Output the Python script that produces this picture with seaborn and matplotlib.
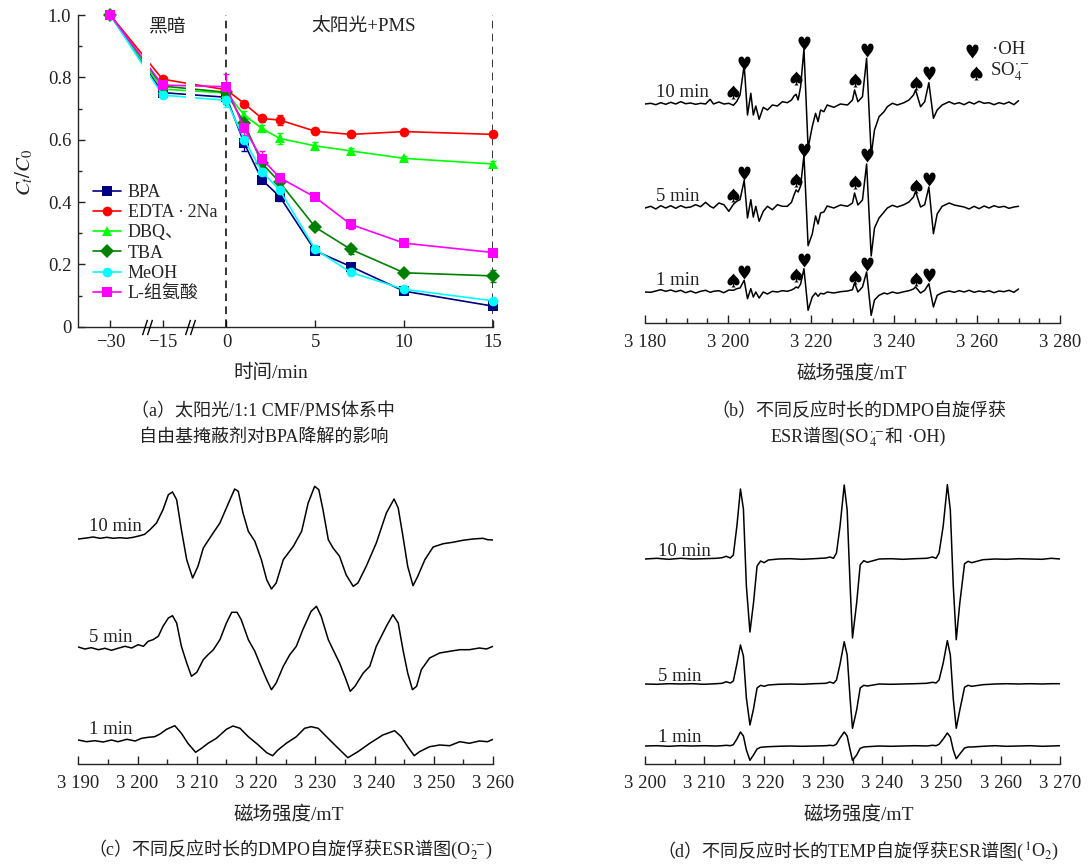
import numpy as np
import pandas as pd
import matplotlib
matplotlib.use("Agg")
import matplotlib.pyplot as plt
from matplotlib.path import Path
from matplotlib.ticker import MultipleLocator, FuncFormatter, FixedLocator
from matplotlib.offsetbox import TextArea, HPacker, AnnotationBbox
import seaborn as sns

# ------------------------------------------------------------------
# (a) C_t/C_0 of BPA with different radical scavengers
# ------------------------------------------------------------------
times = [-30, -15, 0, 1, 2, 3, 5, 7, 10, 15]
series_names = ["BPA", "EDTA\u2009·\u20092Na", "DBQ、", "TBA", "MeOH", "L-组氨酸"]

bpa = [1.0, 0.751, 0.736, 0.588, 0.471, 0.417, 0.243, 0.193, 0.114, 0.066]
edta = [1.0, 0.794, 0.760, 0.716, 0.668, 0.663, 0.627, 0.617, 0.626, 0.617]
dbq = [1.0, 0.762, 0.750, 0.679, 0.636, 0.604, 0.580, 0.564, 0.540, 0.522]
tba = [1.0, 0.772, 0.752, 0.652, 0.524, 0.463, 0.319, 0.248, 0.173, 0.163]
meoh = [1.0, 0.743, 0.726, 0.600, 0.497, 0.438, 0.248, 0.174, 0.120, 0.083]
lhis = [1.0, 0.775, 0.770, 0.636, 0.538, 0.478, 0.415, 0.328, 0.268, 0.238]

bpa_err = [0, 0.005, 0.020, 0.025, 0.010, 0.015, 0.008, 0.008, 0.006, 0.006]
edta_err = [0, 0.005, 0.010, 0.008, 0.010, 0.015, 0.008, 0.008, 0.006, 0.008]
dbq_err = [0.005, 0.005, 0.010, 0.012, 0.010, 0.018, 0.012, 0.010, 0.008, 0.010]
tba_err = [0, 0.005, 0.010, 0.020, 0.015, 0.015, 0.010, 0.015, 0.010, 0.020]
meoh_err = [0, 0.005, 0.020, 0.015, 0.010, 0.020, 0.008, 0.008, 0.006, 0.006]
lhis_err = [0, 0.005, 0.040, 0.020, 0.025, 0.010, 0.010, 0.015, 0.008, 0.008]

colors = ["#000080", "#ff0000", "#00ff00", "#008000", "#00ffff", "#ff00ff"]
markers = ["s", "o", "^", "D", "o", "s"]

# ------------------------------------------------------------------
# (b) DMPO spin trapping, SO4·- and ·OH (field in mT, intensity a.u.)
# ------------------------------------------------------------------
b_field = [3180.0, 3181.4, 3182.6, 3183.8, 3185.0, 3186.2, 3187.4, 3188.6, 3189.8, 3191.0,
           3192.2, 3193.4, 3194.6, 3195.7, 3196.5, 3197.8, 3199.0, 3200.2, 3201.3, 3202.1,
           3202.9, 3203.9, 3204.7, 3205.5, 3206.1, 3206.7, 3207.5, 3208.5, 3209.5, 3210.7,
           3211.9, 3213.1, 3214.3, 3215.3, 3215.9, 3216.4, 3216.9, 3217.5, 3218.3, 3219.3,
           3220.3, 3221.1, 3221.7, 3222.3, 3223.1, 3223.9, 3225.5, 3227.1, 3228.8, 3230.0,
           3230.5, 3231.3, 3232.4, 3233.4, 3234.5, 3235.3, 3236.4, 3237.6, 3238.4, 3239.6,
           3240.8, 3242.4, 3243.6, 3244.7, 3245.2, 3246.4, 3247.4, 3248.4, 3249.5, 3250.4,
           3251.6, 3253.3, 3254.5, 3255.7, 3256.9, 3258.1, 3259.3, 3260.5, 3261.7, 3262.9,
           3264.1, 3265.3, 3266.5, 3267.7, 3268.9, 3270.0]
b_10min = [0, 0.7, -0.7, 1.3, -0.3, 1.7, 0, 2.3, 0.3, 1.0,
           -0.3, 0.7, 0, 4.7, 0, 2.0, 0, 0.7, -1.3, 2.5,
           9.0, 39.0, -11.0, 10.7, -11.0, -2.0, -15.3, -3.3, -6.0, -1.0,
           -2.0, 2.3, 1.3, 4.0, 8.0, 9.7, 4.0, 17.3, 55.0, -44.0,
           -22.7, -9.3, -17.7, -6.0, -7.7, -1.0, -3.3, 0, -1.0, 4.0,
           14.0, 2.3, 7.3, 45.7, -51.0, -26.0, -12.7, -7.7, -2.7, 0.7,
           -1.0, 1.3, 4.0, 9.0, 14.0, -2.7, 2.3, 21.3, -14.3, -6.0,
           -1.0, 2.3, 0, 1.3, -0.7, 2.0, 0, 2.7, 0.7, 1.3,
           -0.7, 1.3, 0, 2.0, -0.7, 3.3]
b_5min = [0, 1.7, -1.0, 2.3, 0, 2.3, -0.3, 2.3, 0.3, 1.0,
          3.3, 1.3, 5.7, 1.7, 0, 5.0, 3.3, -3.3, 3.7, 6.7,
          8.3, 27.7, -10.0, 8.3, -9.0, 1.7, -13.3, -3.3, 1.7, -1.7,
          3.3, 1.7, 1.7, 5.7, 13.0, 18.0, 16.0, 22.0, 53.0, -37.7,
          -26.0, -8.0, -16.0, -5.0, -4.0, 2.0, 0, 3.0, 1.7, 5.0,
          15.0, 3.0, 8.0, 44.0, -48.0, -20.0, -10.0, -4.0, 0, 2.7,
          1.0, 3.3, 6.0, 11.0, 16.7, 1.0, 3.3, 21.0, -25.7, -6.0,
          1.7, 5.0, 3.0, 2.0, 1.0, -1.0, 1.7, -0.7, 2.0, 0,
          2.3, 0.7, 1.7, -0.3, 1.0, 1.7]
b_1min = [0, -0.3, 1.0, 2.3, 0.7, 2.0, 0.3, 1.7, -0.7, 1.0,
          -1.0, 0.7, 1.7, -0.3, 0.7, 1.3, -0.7, 2.0, 1.7, 3.3,
          4.0, 11.7, -6.7, 3.3, -5.0, 0, -6.0, 0, -2.0, 0.7,
          0, 1.3, 0.7, 2.0, 3.3, 5.0, 4.0, 8.0, 23.3, -18.3,
          -5.0, -1.0, -4.3, -1.3, -2.0, 0, -1.0, 0.3, 1.0, 2.3,
          9.3, 0, 5.0, 20.0, -23.3, -8.0, -3.3, -1.0, -2.0, 0,
          -1.3, 0.3, 1.3, 3.0, 5.0, -1.0, 1.7, 8.3, -15.0, -3.3,
          -0.7, 1.0, -0.3, 1.3, 0, 1.7, -0.3, 1.0, 0, 1.3,
          -0.7, 1.0, 0.3, 1.7, -0.3, 3.0]
oh_lines = [21, 38, 53, 67]      # b_field indices of the ·OH lines
so4_lines = [18, 35, 50, 64]     # b_field indices of the SO4·- lines
# heights of the ♥ / ♠ marks above each baseline (10, 5, 1 min)
oh_label_y = [[40.7, 61.3, 54.0, 31.3], [35.0, 58.3, 53.3, 29.0], [20.0, 31.7, 28.3, 16.7]]
so4_label_y = [[12.3, 25.7, 24.0, 20.7], [13.3, 27.7, 25.7, 22.3], [11.7, 16.7, 15.0, 13.3]]

# ------------------------------------------------------------------
# (c) DMPO spin trapping, O2·-
# ------------------------------------------------------------------
c10_field = [3190.0, 3191.4, 3192.5, 3193.7, 3194.8, 3195.9, 3197.0, 3198.2, 3199.3, 3200.4,
             3201.2, 3202.1, 3203.2, 3204.3, 3205.2, 3205.9, 3206.6, 3207.4, 3208.3, 3209.3,
             3210.2, 3211.1, 3212.2, 3213.9, 3215.6, 3216.4, 3217.0, 3217.8, 3218.7, 3219.8,
             3220.9, 3221.8, 3222.6, 3223.4, 3224.6, 3226.3, 3227.7, 3228.8, 3229.9, 3230.6,
             3231.3, 3232.2, 3233.0, 3234.1, 3235.2, 3236.4, 3237.2, 3238.6, 3240.3, 3242.0,
             3243.3, 3244.0, 3244.8, 3245.6, 3246.5, 3247.3, 3248.5, 3249.9, 3251.6, 3253.2,
             3254.9, 3256.6, 3258.3, 3259.1, 3260.0]
c10_int = [0, 1.0, 2.0, 0.7, 1.7, 0.7, 1.3, 0.7, 1.7, 3.3,
           4.7, 9.3, 16.0, 29.3, 44.3, 47.0, 39.3, 9.3, -20.7, -39.0,
           -27.3, -9.0, 1.0, 16.0, 39.3, 50.0, 47.7, 26.0, 7.7, -2.3,
           -20.7, -40.7, -50.0, -44.0, -20.7, -7.3, 7.7, 36.0, 52.7, 49.3,
           29.3, -0.7, -9.0, -17.3, -35.7, -47.3, -44.0, -27.3, -4.0, 26.0,
           40.0, 31.0, 2.7, -27.3, -46.7, -37.3, -20.7, -8.0, -4.7, -3.3,
           -1.3, 0, 0.7, -0.7, -1.0]
c5_field = [3190.0, 3191.1, 3192.2, 3193.4, 3194.5, 3195.6, 3196.7, 3197.9, 3199.0, 3200.1,
            3201.0, 3201.8, 3202.6, 3203.5, 3204.3, 3205.2, 3205.9, 3206.6, 3207.4, 3208.3,
            3209.1, 3210.0, 3211.1, 3211.9, 3212.8, 3213.9, 3215.0, 3215.9, 3216.8, 3217.5,
            3218.7, 3219.8, 3220.6, 3221.8, 3222.6, 3223.4, 3224.6, 3225.7, 3226.8, 3227.9,
            3229.3, 3230.2, 3231.0, 3232.2, 3233.0, 3234.1, 3235.2, 3235.9, 3236.7, 3238.1,
            3239.2, 3240.3, 3242.0, 3243.1, 3244.0, 3244.8, 3245.6, 3246.4, 3247.1, 3247.9,
            3249.3, 3251.0, 3252.7, 3254.4, 3256.0, 3257.7, 3258.9, 3260.0]
c5_int = [1.0, -1.0, 0.3, -1.7, -0.3, -2.3, -0.3, 1.7, 0, 3.3,
          1.7, 6.7, 8.3, 11.7, 21.7, 30.0, 32.3, 25.0, 1.7, -15.0,
          -28.3, -24.3, -11.7, -6.7, -1.7, 8.3, 25.0, 35.7, 35.7, 28.3,
          8.3, -3.3, -15.0, -31.7, -41.7, -35.0, -18.3, -6.7, 1.7, 18.3,
          36.7, 41.7, 31.7, 8.3, -1.7, -15.0, -31.7, -43.3, -38.3, -25.0,
          -18.3, 1.7, 21.7, 33.3, 25.0, -1.7, -25.0, -41.7, -38.3, -21.7,
          -10.0, -5.0, -3.3, -1.7, -1.7, 0, -1.0, 1.7]
c1_field = [3190.0, 3191.4, 3192.8, 3194.2, 3195.6, 3196.7, 3198.2, 3199.6, 3200.7, 3201.8,
            3202.9, 3203.8, 3204.9, 3206.3, 3207.4, 3208.5, 3209.8, 3210.8, 3211.9, 3213.3,
            3215.0, 3216.1, 3217.3, 3218.7, 3220.4, 3221.8, 3222.8, 3223.7, 3225.1, 3226.8,
            3228.2, 3229.3, 3230.5, 3231.9, 3233.6, 3235.5, 3237.2, 3239.2, 3241.4, 3243.4,
            3244.5, 3245.6, 3246.7, 3247.6, 3249.3, 3251.0, 3252.7, 3254.4, 3256.0, 3257.7,
            3259.1, 3260.0]
c1_int = [1.0, -0.7, 0.3, -1.0, 1.0, -0.7, 1.7, 0, 2.7, 3.7,
          4.3, 7.0, 11.7, 15.3, 7.7, -2.3, -11.3, -7.3, -2.3, 2.7,
          11.7, 15.0, 12.7, 4.3, -4.0, -11.7, -14.7, -9.0, -2.3, 4.3,
          12.7, 14.3, 12.7, 4.3, -5.7, -16.7, -10.7, -2.3, 6.0, 10.3,
          4.3, -5.7, -14.7, -10.7, -5.7, -4.0, -4.7, -0.7, -2.3, 0,
          -0.7, 1.7]

# ------------------------------------------------------------------
# (d) TEMP spin trapping, 1O2
# ------------------------------------------------------------------
d_field = [3200.0, 3202.0, 3204.0, 3206.0, 3208.0, 3210.0, 3212.0, 3213.0, 3213.7, 3214.4,
           3214.9, 3215.5, 3216.1, 3216.6, 3217.1, 3217.7, 3218.3, 3218.9, 3219.5, 3220.1,
           3220.8, 3222.5, 3224.5, 3226.5, 3228.5, 3230.5, 3231.2, 3231.8, 3232.3, 3232.9,
           3233.6, 3234.1, 3234.6, 3235.0, 3235.7, 3236.3, 3236.9, 3237.5, 3239.5, 3241.5,
           3243.5, 3245.5, 3247.5, 3248.5, 3249.1, 3249.6, 3250.3, 3251.0, 3251.5, 3252.0,
           3252.5, 3253.1, 3253.9, 3254.5, 3255.1, 3257.0, 3259.0, 3261.0, 3263.0, 3265.0,
           3267.0, 3268.5, 3270.0]
d_10min = [0, 0.7, -0.3, 0.7, 0, 0.3, 0.7, 1.3, 2.7, 1.0,
           4.0, 33.0, 70.0, 50.0, -27.0, -73.0, -44.0, -7.0, -2.0, -3.7,
           -1.0, 0, 0.3, -0.3, 0.3, 1.0, 2.0, 0.7, 6.0, 33.0,
           74.0, 49.0, -27.0, -79.0, -44.0, -5.7, -1.7, -3.3, 0, 0.3,
           -0.3, 0.3, 0.7, 2.0, 0.7, 6.0, 33.0, 74.3, 49.0, -27.0,
           -80.7, -44.0, -4.7, -2.3, -3.7, -0.7, 0, -0.3, 0.3, 0,
           -0.3, 0.7, 0]
d_5min = [0, -0.3, 0.3, 0, 0.3, -0.3, 0.3, 0.7, 2.3, 1.0,
          3.0, 20.0, 39.0, 28.0, -14.0, -41.0, -25.0, -4.0, -1.3, -2.3,
          -1.0, -0.3, 0, -0.3, 0.3, 0.7, 2.0, 0.7, 4.0, 20.0,
          42.3, 29.0, -15.0, -44.3, -26.0, -4.0, -1.3, -2.0, 0, -0.3,
          0, 0.3, 0.7, 1.7, 1.0, 4.0, 21.0, 43.3, 29.0, -15.0,
          -44.3, -26.0, -3.3, -1.3, -2.3, -0.7, 0, 0.3, 0, 0.3,
          0, 0.3, 0.3]
d_1min = [0, 0.3, -0.3, 0.3, 0, 0.3, 0, 0.3, 0.7, 0.3,
          1.3, 7.0, 14.0, 10.0, -4.0, -14.3, -9.0, -3.0, -1.3, -1.0,
          -0.7, -0.3, 0, -0.3, 0, 0.3, 0.7, 0.3, 2.0, 8.0,
          14.0, 10.0, -4.0, -14.3, -9.0, -2.3, -1.0, -0.7, 0, -0.3,
          0, 0.3, 0, 0.7, 0.3, 1.7, 7.0, 13.0, 9.0, -4.0,
          -12.7, -8.0, -2.0, -1.0, -1.0, -0.3, 0.3, -0.3, 0, 0.3,
          -0.3, 0, 0.3]

time_labels = ["10 min", "5 min", "1 min"]

# ------------------------------------------------------------------
# style
# ------------------------------------------------------------------
FAMILY = ["Liberation Serif", "Noto Sans CJK SC", "DejaVu Sans"]
sns.set_style("ticks")
plt.rcParams["font.family"] = FAMILY
plt.rcParams["mathtext.fontset"] = "stix"
plt.rcParams["axes.linewidth"] = 1.0
plt.rcParams["axes.unicode_minus"] = True
INK = "#222222"
HEART, SPADE = "$\u2665$", "$\u2660$"
SUIT_SIZE = 10

W, H = 1092, 866
fig = plt.figure(figsize=(W / 100, H / 100), dpi=100)


def px_axes(left, top, right, bottom):
    return fig.add_axes([left / W, 1 - bottom / H, (right - left) / W, (bottom - top) / H])


def caption(parts, cx, cy, size=13):
    boxes = [TextArea(p, textprops=dict(size=size, family=FAMILY, color=INK)) for p in parts]
    pack = HPacker(children=boxes, align="baseline", pad=0, sep=0)
    ab = AnnotationBbox(pack, (cx / W, 1 - cy / H), xycoords="figure fraction",
                        frameon=False, box_alignment=(0.5, 0.5), pad=0)
    fig.add_artist(ab)


def field_fmt(v, _):
    v = int(round(v))
    return f"{v // 1000} {v % 1000:03d}"


def esr_axes(ax, lo, hi, major, height_px, lab_x):
    sns.despine(ax=ax, left=True)
    ax.set_yticks([])
    ax.set_xlim(lo, hi)
    ax.set_ylim(0, height_px)
    ax.xaxis.set_major_locator(MultipleLocator(major))
    ax.xaxis.set_minor_locator(MultipleLocator(5))
    ax.xaxis.set_major_formatter(FuncFormatter(field_fmt))
    ax.tick_params(axis="x", which="major", direction="in", length=6, width=1.0,
                   pad=8, labelsize=13.5, colors=INK)
    ax.tick_params(axis="x", which="minor", direction="in", length=3.5, width=1.0)
    ax.set_xlabel("磁场强度/mT", fontsize=14, va="center", color=INK)
    ax.xaxis.set_label_coords(lab_x, -50 / height_px)
    ax.set_facecolor("none")


def draw_trace(ax, x, y, offset):
    sns.lineplot(x=np.asarray(x), y=np.asarray(y) + offset, sort=False, estimator=None,
                 color="black", linewidth=1.1, ax=ax)


# ------------------------------------------------------------------
# panel (a)
# ------------------------------------------------------------------
ax_a = px_axes(78.3, 15, 493, 326.7)
pos_map = {-30: -6.54, -15: -3.6}          # broken time axis
xpos = [pos_map.get(t, t) for t in times]
values = [bpa, edta, dbq, tba, meoh, lhis]
errors = [bpa_err, edta_err, dbq_err, tba_err, meoh_err, lhis_err]

df_a = pd.DataFrame({
    "pos": xpos * len(series_names),
    "C": np.concatenate(values),
    "series": np.repeat(series_names, len(times)),
})
for name, vals, err, col in zip(series_names, values, errors, colors):
    ax_a.errorbar(xpos, vals, yerr=err, fmt="none", ecolor=col, elinewidth=1.0,
                  capsize=2.5, capthick=1.0, zorder=1.8, clip_on=False)
sns.lineplot(data=df_a, x="pos", y="C", hue="series", style="series",
             hue_order=series_names, style_order=series_names,
             palette=dict(zip(series_names, colors)),
             markers=dict(zip(series_names, markers)), dashes=False,
             markersize=7, markeredgewidth=0, linewidth=1.2, errorbar=None,
             clip_on=False, ax=ax_a, zorder=2)

# gaps in the curves at the axis breaks
for lo, hi in [(-4.76, -4.33), (-2.26, -1.76)]:
    ax_a.axvspan(lo, hi, ymin=0.003, ymax=1, color="white", zorder=2.2, lw=0)
brk = Path([(-2.6, -4), (0.0, 4), (0.0, -4), (2.6, 4)],
           [Path.MOVETO, Path.LINETO, Path.MOVETO, Path.LINETO])
for bx in [-4.48, -2.04]:
    ax_a.plot([bx], [0], marker=brk, markersize=11, color="black", mew=1.0,
              linestyle="none", clip_on=False, zorder=3)

for xv in [0, 15]:
    ax_a.axvline(xv, color="black", lw=1.1, dashes=(5, 3.5), zorder=1)

ax_a.set_xlim(-8.34, 15)
ax_a.set_ylim(0, 1.0)
sns.despine(ax=ax_a)
ax_a.xaxis.set_major_locator(FixedLocator(xpos[:3] + [5, 10, 15]))
ax_a.set_xticklabels(["\u221230", "\u221215", "0", "5", "10", "15"])
ax_a.yaxis.set_major_locator(MultipleLocator(0.2))
ax_a.yaxis.set_minor_locator(MultipleLocator(0.1))
ax_a.yaxis.set_major_formatter(FuncFormatter(lambda v, _: "0" if abs(v) < 1e-9 else f"{v:.1f}"))
ax_a.tick_params(axis="both", which="major", direction="in", length=5, width=1.0,
                 labelsize=13.5, colors=INK)
ax_a.tick_params(axis="x", pad=5)
ax_a.tick_params(axis="y", pad=5)
ax_a.tick_params(axis="y", which="minor", direction="in", length=3, width=1.0)
ax_a.set_xlabel("时间/min", fontsize=14, va="center", color=INK)
ax_a.xaxis.set_label_coords((271 - 78.3) / 415, -(373 - 326.7) / 311.7)
ax_a.set_ylabel("$C_t/C_0$", fontsize=15, color=INK)
ax_a.yaxis.set_label_coords((35 - 78.3) / 415, (326.7 - 172) / 311.7)

ax_a.text(-3.33, 0.96, "黑暗", fontsize=13.5, ha="center", va="center", color=INK)
ax_a.text(7.69, 0.96, "太阳光+PMS", fontsize=13.5, ha="center", va="center", color=INK)

handles, labels = ax_a.get_legend_handles_labels()
ax_a.legend(handles, labels, loc="upper left", bbox_to_anchor=(0.036, 0.458),
            frameon=False, fontsize=13, handlelength=1.55, handletextpad=0.35,
            labelspacing=0.18, borderaxespad=0.0, borderpad=0.0)

caption(["（a）太阳光/1:1 CMF/PMS体系中"], 263, 412)
caption(["自由基掩蔽剂对BPA降解的影响"], 264, 437)

# ------------------------------------------------------------------
# panel (b)
# ------------------------------------------------------------------
ax_b = px_axes(645, 25, 1060, 323)
esr_axes(ax_b, 3180, 3280, 20, 298, (852 - 645) / 415)
b_offsets = [219, 115, 31]
for k, (trace, off, lab) in enumerate(zip([b_10min, b_5min, b_1min], b_offsets, time_labels)):
    draw_trace(ax_b, b_field, trace, off)
    ax_b.text(3182.7, off + 7, lab, fontsize=13.5, ha="left", va="baseline", color=INK)
    ax_b.plot([b_field[i] for i in oh_lines], off + np.asarray(oh_label_y[k]),
              linestyle="none", marker=HEART, markersize=SUIT_SIZE, color="black", mew=0)
    ax_b.plot([b_field[i] for i in so4_lines], off + np.asarray(so4_label_y[k]),
              linestyle="none", marker=SPADE, markersize=SUIT_SIZE, color="black", mew=0)

# key for the two radical marks
ax_b.plot([3258.8], [272], linestyle="none", marker=HEART, markersize=SUIT_SIZE,
          color="black", mew=0, clip_on=False)
ax_b.plot([3259.8], [250], linestyle="none", marker=SPADE, markersize=SUIT_SIZE,
          color="black", mew=0, clip_on=False)
fig.text(992 / W, 1 - 50 / H, "·OH", fontsize=13.5, ha="left", va="center", color=INK)
fig.text(990 / W, 1 - 72 / H, r"SO$_4^{\cdot-}$", fontsize=13.5, ha="left", va="center", color=INK)

caption(["（b）不同反应时长的DMPO自旋俘获"], 859, 411)
caption(["ESR谱图(SO", r"${}_{4}^{\cdot-}$", "和 ·OH)"], 858, 438)

# ------------------------------------------------------------------
# panel (c)
# ------------------------------------------------------------------
ax_c = px_axes(78.3, 470, 493, 764)
esr_axes(ax_c, 3190, 3260, 10, 294, (289 - 78.3) / 415)
c_offsets = [225, 116, 23]
c_lab_dy = [8, 6, 7]
for (fx, fy), off, lab, dy in zip([(c10_field, c10_int), (c5_field, c5_int), (c1_field, c1_int)],
                                  c_offsets, time_labels, c_lab_dy):
    draw_trace(ax_c, fx, fy, off)
    ax_c.text(3191.8, off + dy, lab, fontsize=13.5, ha="left", va="baseline", color=INK)

caption(["（c）不同反应时长的DMPO自旋俘获ESR谱图(O", r"${}_{2}^{\cdot-}$", ")"], 290, 851)

# ------------------------------------------------------------------
# panel (d)
# ------------------------------------------------------------------
ax_d = px_axes(645, 470, 1060, 764)
esr_axes(ax_d, 3200, 3270, 10, 294, (859 - 645) / 415)
d_offsets = [205, 80, 18]
d_lab_dy = [3, 3, 4]
for trace, off, lab, dy in zip([d_10min, d_5min, d_1min], d_offsets, time_labels, d_lab_dy):
    draw_trace(ax_d, d_field, trace, off)
    ax_d.text(3202.2, off + dy, lab, fontsize=13.5, ha="left", va="baseline", color=INK)

caption(["（d）不同反应时长的TEMP自旋俘获ESR谱图(", r"${}^{1}$O${}_{2}$)"], 858, 852)

fig.savefig("out.png", dpi=100)
